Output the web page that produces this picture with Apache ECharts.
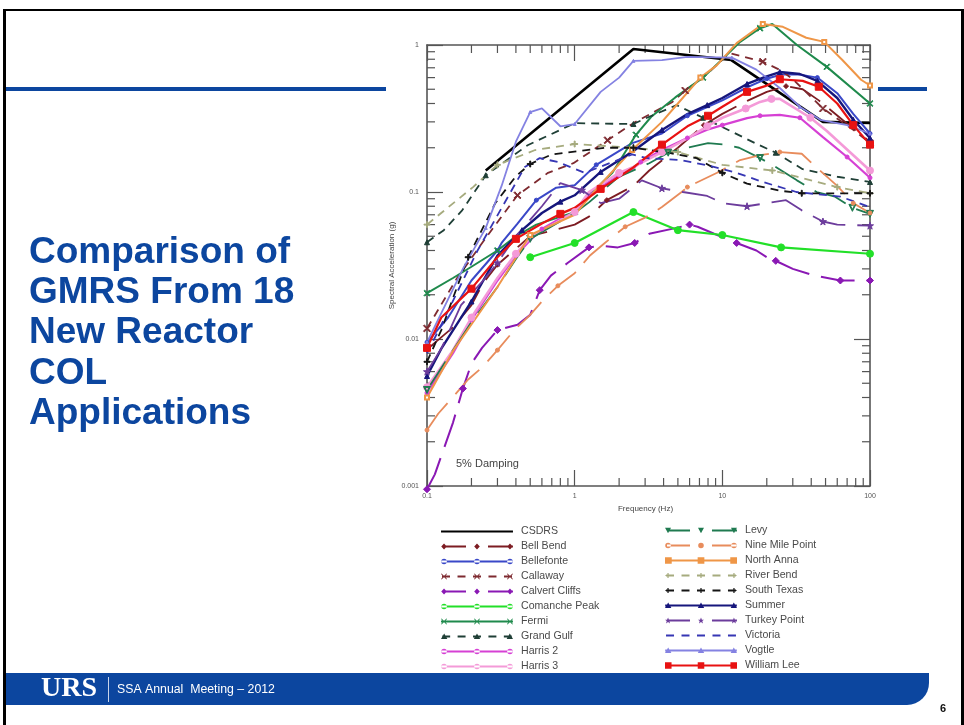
<!DOCTYPE html>
<html><head><meta charset="utf-8">
<style>html,body{margin:0;padding:0;background:#fff}#c{width:964px;height:725px}</style>
<script src="https://cdn.jsdelivr.net/npm/echarts@6/dist/echarts.min.js"></script>
</head><body><div id="c"></div>
<script>
// [frequency Hz, spectral acceleration g]
const csdrs=[[0.25,0.14],[2.5,0.94],[11.5,0.79],[48,0.3],[100,0.295]];
const bellBend=[[0.1,.0085],[.15,.012],[.2,.017],[.24,.024],[.3,.032],[.5,.05],[1,.06],[1.25,.068],[1.65,.088],[2.5,.11],[3.2,.14],[5,.2],[7.5,.285],[10,.34],[15,.42],[20,.48],[27,.525],[35,.5],[45,.42],[65,.31],[100,.22]];
const bellefonte=[[.1,.0095],[.139,.014],[.2,.025],[.3,.04],[.32,.045],[.41,.061],[.55,.088],[.75,.107],[1,.111],[1.4,.153],[2.45,.215],[3.9,.25],[5.8,.33],[10,.42],[15,.52],[20,.59],[25,.63],[33,.63],[44,.6],[60,.47],[77,.34],[100,.25]];
const callaway=[[.1,.0118],[.16,.026],[.255,.05],[.41,.095],[.66,.135],[.98,.157],[1.67,.225],[2.5,.294],[4.6,.41],[5.6,.49],[7.4,.6],[11.2,.88],[18.8,.77],[25,.67],[30,.585],[48,.37],[77,.265],[100,.215]];
const calvertCliffs=[[.1,.00095],[.113,.0012],[.15,.0027],[.175,.0046],[.2,.0068],[.236,.0087],[.3,.0115],[.41,.0125],[.5,.0146],[.58,.0215],[.69,.027],[.9,.033],[1.25,.042],[1.53,.043],[1.96,.042],[2.55,.045],[3.2,.052],[4.9,.057],[6,.06],[6.8,.058],[8.8,.052],[12.5,.045],[17,.04],[20,.036],[23,.034],[30,.03],[42,.027],[63,.025],[100,.025]];
const comanchePeak=[[.5,.036],[1,.045],[2.5,.073],[5,.055],[10,.051],[25,.042],[100,.038]];
const fermi=[[.1,.0205],[.15,.026],[.2,.031],[.3,.04],[.4,.05],[.55,.06],[1,.073],[1.25,.095],[1.8,.135],[2.6,.245],[3.3,.325],[4.8,.44],[7.4,.6],[10,.8],[13.2,1.05],[18,1.3],[21.8,1.39],[32,1.0],[51,.71],[100,.4]];
const grandGulf=[[.1,.0455],[.13,.055],[.173,.075],[.25,.13],[.48,.208],[1,.294],[2.5,.29],[3.2,.325],[4.9,.39],[7.4,.32],[10.9,.265],[17.5,.21],[23,.185],[35,.143],[60,.127],[100,.117]];
const harris2=[[.1,.0043],[.15,.008],[.2,.0135],[.3,.025],[.4,.037],[.5,.047],[.6,.056],[.8,.066],[1,.072],[1.25,.095],[2,.13],[2.5,.145],[2.8,.16],[3.9,.193],[5.8,.233],[7.9,.265],[10,.285],[14.7,.318],[18,.33],[24.5,.335],[33.5,.32],[48,.236],[70,.173],[100,.125]];
const harris3=[[.1,.0047],[.15,.0084],[.2,.014],[.3,.026],[.4,.038],[.5,.049],[1,.073],[1.25,.1],[2,.135],[2.5,.148],[3.9,.187],[5.8,.232],[7.9,.28],[10,.32],[14.4,.37],[18,.41],[21.5,.43],[24.5,.43],[39.5,.32],[51,.26],[100,.14]];
const levy=[[.1,.0045],[.15,.0084],[.2,.013],[.3,.0226],[.4,.035],[.5,.048],[1,.072],[1.25,.085],[1.97,.126],[3.2,.157],[4.3,.185],[5.8,.2],[8,.215],[10.3,.21],[13,.2],[18,.17],[23,.148],[32,.12],[43.5,.1],[58,.093],[76,.078],[100,.071]];
const nineMilePoint=[[.1,.0024],[.119,.0031],[.19,.0053],[.236,.0064],[.3,.0084],[.39,.0115],[.5,.0146],[.6,.018],[.77,.023],[1,.028],[1.27,.037],[1.6,.045],[2.2,.058],[3,.067],[3.9,.079],[5.3,.1],[5.8,.108],[9.6,.138],[13.2,.165],[18,.178],[24.5,.187],[34.5,.182],[44,.145],[60,.11],[77,.084],[100,.072]];
const northAnna=[[.1,.004],[.15,.0083],[.3,.0226],[.5,.051],[1,.07],[1.44,.108],[2.45,.193],[3.9,.3],[5,.4],[7.1,.6],[9.2,.73],[12.5,1.03],[18.8,1.39],[25.7,1.33],[37,1.12],[49,1.05],[65,.79],[87,.58],[100,.53]];
const riverBend=[[.1,.06],[.205,.108],[.3,.153],[.54,.193],[1,.212],[2.5,.2],[5,.187],[10,.153],[21.8,.14],[32,.127],[60,.108],[100,.098]];
const southTexas=[[.1,.007],[.125,.0115],[.15,.019],[.19,.036],[.29,.084],[.4,.128],[.5,.155],[.7,.18],[1.6,.2],[2.5,.2],[4.3,.185],[6.7,.17],[10,.135],[14.7,.114],[24.5,.102],[34.5,.098],[53,.098],[100,.098]];
const summer=[[.1,.0056],[.125,.0086],[.2,.018],[.3,.037],[.44,.055],[.6,.072],[.8,.086],[1,.095],[1.5,.137],[2.5,.19],[3.9,.264],[5.8,.339],[7.9,.39],[10,.436],[14.7,.543],[19.5,.606],[24.5,.655],[33.5,.635],[44,.57],[60,.436],[77,.31],[100,.233]];
const turkeyPoint=[[.1,.006],[.125,.0086],[.17,.017],[.24,.025],[.3,.033],[.4,.05],[.6,.08],[.8,.115],[1.12,.103],[1.5,.084],[2,.09],[2.85,.12],[3.9,.106],[5.4,.1],[7.9,.094],[10.1,.084],[14.7,.08],[20,.084],[27,.088],[34.5,.075],[48,.063],[60,.06],[100,.059]];
const victoria=[[.1,.008],[.12,.0115],[.22,.04],[.46,.148],[.58,.17],[.77,.16],[1.17,.135],[2.45,.18],[3.1,.17],[5.2,.165],[7.9,.152],[12.5,.135],[18.8,.117],[31.7,.1],[63,.093],[100,.079]];
const vogtle=[[.1,.0095],[.125,.015],[.175,.03],[.25,.057],[.32,.11],[.4,.22],[.5,.35],[.6,.37],[.8,.28],[1,.29],[1.5,.48],[2,.6],[2.5,.78],[3.9,.79],[5.8,.83],[11.6,.82],[17,.68],[24.5,.51],[33.5,.38],[46,.31],[70,.285],[100,.25]];
const williamLee=[[.1,.0087],[.125,.014],[.2,.022],[.3,.036],[.4,.048],[.6,.061],[.8,.071],[1,.078],[1.5,.105],[2.45,.145],[3.9,.21],[5.8,.28],[8,.33],[10,.38],[14.7,.48],[19.5,.525],[24.5,.585],[35,.57],[45,.52],[60,.40],[77,.285],[100,.21]];

const minorFreqTicks=[.2,.3,.4,.5,.6,.7,.8,.9,2,3,4,5,6,7,8,9,20,30,40,50,60,70,80,90];
const minorAccelTicks=[.002,.003,.004,.005,.006,.007,.008,.009,.02,.03,.04,.05,.06,.07,.08,.09,.2,.3,.4,.5,.6,.7,.8,.9];

const titleLines=['Comparison of','GMRS From 18','New Reactor','COL','Applications'];
const NAVY='#0c469f', GREY='#555';

const star='path://M5 0L6.2 3.6L10 3.6L7 5.9L8.1 9.5L5 7.3L1.9 9.5L3 5.9L0 3.6L3.8 3.6Z';
const cross='path://M0 1.2L1.2 0L5 3.8L8.8 0L10 1.2L6.2 5L10 8.8L8.8 10L5 6.2L1.2 10L0 8.8L3.8 5Z';
const plus='path://M4.2 0H5.8V4.2H10V5.8H5.8V10H4.2V5.8H0V4.2H4.2Z';
const itri='path://M0 0H10L5 9Z M2 1.2L5 6.6L8 1.2Z';

const lines=[
 {n:'CSDRS',d:csdrs,c:'#000000',w:2.6,sym:'none',s:0,e:1,line:'solid',col:0},
 {n:'Bell Bend',d:bellBend,c:'#7d1c22',w:1.8,sym:'diamond',s:5,e:4,line:'long',col:0},
 {n:'Bellefonte',d:bellefonte,c:'#3a48c8',w:2,sym:'circle',s:4,e:3,line:'solid',col:0},
 {n:'Callaway',d:callaway,c:'#7e2a30',w:1.8,sym:cross,s:7,e:3,line:'dash',col:0},
 {n:'Calvert Cliffs',d:calvertCliffs,c:'#8a18b4',w:2,sym:'diamond',s:7,e:3,line:'long',col:0},
 {n:'Comanche Peak',d:comanchePeak,c:'#22e028',w:2.2,sym:'circle',s:7,e:1,line:'solid',col:0},
 {n:'Fermi',d:fermi,c:'#1f8a4c',w:2,sym:cross,s:6,e:3,line:'solid',col:0},
 {n:'Grand Gulf',d:grandGulf,c:'#1f3f36',w:1.8,sym:'triangle',s:5,e:3,line:'dash',col:0},
 {n:'Harris 2',d:harris2,c:'#d640d4',w:2.2,sym:'circle',s:4,e:2,line:'solid',col:0},
 {n:'Harris 3',d:harris3,c:'#f49ad8',w:2.6,sym:'circle',s:7,e:2,line:'solid',col:0},
 {n:'Levy',d:levy,c:'#1f7a50',w:1.8,sym:itri,s:7,e:5,line:'long',col:1},
 {n:'Nine Mile Point',d:nineMilePoint,c:'#e88c5c',w:1.8,sym:'circle',s:4,e:4,line:'long',col:1},
 {n:'North Anna',d:northAnna,c:'#ef9647',w:2,sym:'emptyRect',s:4,e:3,line:'solid',col:1},
 {n:'River Bend',d:riverBend,c:'#a6ab7e',w:1.8,sym:plus,s:6,e:2,line:'dash',col:1},
 {n:'South Texas',d:southTexas,c:'#141414',w:1.8,sym:plus,s:6,e:3,line:'dash',col:1},
 {n:'Summer',d:summer,c:'#16167c',w:2.4,sym:'triangle',s:5,e:2,line:'solid',col:1},
 {n:'Turkey Point',d:turkeyPoint,c:'#6c3c9c',w:1.8,sym:star,s:7,e:4,line:'long',col:1},
 {n:'Victoria',d:victoria,c:'#3636b4',w:1.8,sym:'none',s:0,e:1,line:'dash',col:1},
 {n:'Vogtle',d:vogtle,c:'#8482e2',w:1.8,sym:'triangle',s:3,e:3,line:'solid',col:1},
 {n:'William Lee',d:williamLee,c:'#e81212',w:2.2,sym:'rect',s:7,e:2,line:'solid',col:1}
];

// legend key: line (72x10 box) with three markers, drawn as one filled path
function circle(cx,r,rev){const f=rev?1:0;return `M${cx-r} 5a${r} ${r} 0 1 ${f} ${2*r} 0a${r} ${r} 0 1 ${f} ${-2*r} 0z`;}
function markerPath(sym,x){
 const r=2.8;
 if(sym==='circle')return circle(x,r);
 if(sym==='diamond')return `M${x} 2L${x+2.8} 5L${x} 8L${x-2.8} 5z`;
 if(sym==='triangle')return `M${x} 2L${x+3.2} 7.5H${x-3.2}z`;
 if(sym==='rect')return `M${x-3.3} 1.7h6.6v6.6h-6.6z`;
 if(sym==='emptyRect')return `M${x-3.4} 1.6h6.8v6.8h-6.8z`;
 if(sym===star)return `M${x} 2L${x+.9} 4.2H${x+3}L${x+1.3} 5.6L${x+2} 8L${x} 6.6L${x-2} 8L${x-1.3} 5.6L${x-3} 4.2H${x-.9}z`;
 if(sym===cross)return `M${x-3} 2.5L${x-2.4} 2L${x} 4.4L${x+2.4} 2L${x+3} 2.5L${x+.6} 5L${x+3} 7.5L${x+2.4} 8L${x} 5.6L${x-2.4} 8L${x-3} 7.5L${x-.6} 5z`;
 if(sym===plus)return `M${x-.6} 2.4h1.2v2h2v1.2h-2v2h-1.2v-2h-2v-1.2h2z`;
 if(sym===itri)return `M${x-3} 2.2H${x+3}L${x} 7.8z`;
 return '';
}
function legendGlyph(o){
 let p='M0 0h.01v.01zM72 10h.01v.01z';
 const bar=(a,b)=>`M${a} 4.1H${b}V5.9H${a}z`;
 if(o.line==='solid')p+=bar(0,72);
 else if(o.line==='long')p+=bar(2,25)+bar(47,72);
 else for(let i=0;i<5;i++)p+=bar(i*15.5+1,i*15.5+9);
 if(o.sym!=='none')[3,36,69].forEach(x=>{p+=markerPath(o.sym,x);});
 return 'path://'+p;
}
const legendOf=(col,left,top)=>({
 orient:'vertical',left,top,itemWidth:72,itemHeight:10,itemGap:4,padding:0,selectedMode:false,
 textStyle:{fontSize:10.6,lineHeight:10,color:'#4a4a4a',fontFamily:'Liberation Sans',padding:[0,0,0,3]},
 data:lines.filter(l=>l.col===col).map(l=>({name:l.n,icon:legendGlyph(l)}))
});

const dashOf={solid:'solid',dash:[8,6],long:[34,12]};
const seriesList=lines.map(l=>({
 type:'line',name:l.n,data:l.d,xAxisIndex:0,yAxisIndex:0,clip:false,
 symbol:l.sym,showSymbol:l.sym!=='none',showAllSymbol:true,
 symbolSize:(v,p)=>(p.dataIndex%l.e===0||p.dataIndex===l.d.length-1)?l.s:0,
 itemStyle:{color:l.c,borderColor:l.c},
 lineStyle:{color:l.c,width:l.w,type:dashOf[l.line]},
 emphasis:{disabled:true},silent:true
}));

const tickStroke={stroke:GREY,lineWidth:1.2};
seriesList.push({
 type:'custom',name:'minorX',coordinateSystem:'cartesian2d',silent:true,clip:false,
 data:minorFreqTicks.map(f=>[f,0.001]),
 renderItem:(p,api)=>{const c=api.coord([api.value(0),0.001]);const t=api.coord([api.value(0),1]);
  return {type:'group',children:[
   {type:'line',shape:{x1:c[0],y1:c[1],x2:c[0],y2:c[1]-8},style:tickStroke},
   {type:'line',shape:{x1:t[0],y1:t[1],x2:t[0],y2:t[1]+8},style:tickStroke}]};}
},{
 type:'custom',name:'minorY',coordinateSystem:'cartesian2d',silent:true,clip:false,
 data:minorAccelTicks.map(a=>[0.1,a]),
 renderItem:(p,api)=>{const c=api.coord([0.1,api.value(1)]);const t=api.coord([100,api.value(1)]);
  return {type:'group',children:[
   {type:'line',shape:{x1:c[0],y1:c[1],x2:c[0]+8,y2:c[1]},style:tickStroke},
   {type:'line',shape:{x1:t[0],y1:t[1],x2:t[0]-8,y2:t[1]},style:tickStroke}]};}
});

const axisBase={type:'log',logBase:10,splitLine:{show:false},minorTick:{show:false},minorSplitLine:{show:false},
 axisLine:{show:true,lineStyle:{color:GREY,width:1.6}},
 axisTick:{show:true,inside:true,length:16,lineStyle:{color:GREY,width:1.2}}};
const labelStyle={fontSize:7,color:'#555',fontFamily:'Liberation Sans'};

const graphics=[
 {type:'rect',shape:{x:3,y:9,width:3,height:716},style:{fill:'#000'},silent:true},
 {type:'rect',shape:{x:3,y:9,width:961,height:2},style:{fill:'#000'},silent:true},
 {type:'rect',shape:{x:961,y:9,width:3,height:716},style:{fill:'#000'},silent:true},
 {type:'rect',shape:{x:6,y:87,width:380,height:4},style:{fill:NAVY},silent:true},
 {type:'rect',shape:{x:878,y:87,width:49,height:4},style:{fill:NAVY},silent:true},
 {type:'rect',shape:{x:6,y:673,width:923,height:32,r:[0,0,22,0]},style:{fill:NAVY},silent:true},
 {type:'text',left:41,top:675,style:{text:'URS',fill:'#fff',font:'bold 28px "Liberation Serif"'},silent:true},
 {type:'rect',shape:{x:108,y:677,width:1,height:25},style:{fill:'#c8d4ea'},silent:true},
 {type:'text',left:117,top:684,style:{text:'SSA Annual  Meeting – 2012',fill:'#fff',font:'12.3px "Liberation Sans"'},silent:true},
 {type:'text',left:940,top:703,style:{text:'6',fill:'#111',font:'bold 11px "Liberation Sans"'},silent:true},
 {type:'text',left:456,top:458,style:{text:'5% Damping',fill:'#444',font:'11px "Liberation Sans"'},silent:true}
];
titleLines.forEach((t,i)=>graphics.push({type:'text',left:29,top:234+i*40.3,style:{text:t,fill:NAVY,font:'bold 37px "Liberation Sans"'},silent:true}));

const chart=echarts.init(document.getElementById('c'),null,{renderer:'canvas'});
chart.setOption({
 animation:false,backgroundColor:'#fff',
 grid:{left:427,top:45,width:443,height:441,containLabel:false},
 xAxis:[
  Object.assign({},axisBase,{min:0.1,max:100,position:'bottom',name:'Frequency (Hz)',nameLocation:'middle',nameGap:19,
   nameTextStyle:{fontSize:8,color:'#444',fontFamily:'Liberation Sans',padding:[0,6,0,0]},axisLabel:Object.assign({margin:7},labelStyle)}),
  Object.assign({},axisBase,{min:0.1,max:100,position:'top',gridIndex:0,axisLabel:{show:false}})
 ],
 yAxis:[
  Object.assign({},axisBase,{min:0.001,max:1,position:'left',name:'Spectral Acceleration (g)',nameLocation:'middle',nameGap:31,
   nameTextStyle:{fontSize:8,color:'#444',fontFamily:'Liberation Sans'},axisLabel:Object.assign({margin:8},labelStyle)}),
  Object.assign({},axisBase,{min:0.001,max:1,position:'right',gridIndex:0,axisLabel:{show:false}})
 ],
 legend:[legendOf(0,441,526),legendOf(1,665,525)],
 series:seriesList,
 graphic:graphics
});
</script></body></html>
